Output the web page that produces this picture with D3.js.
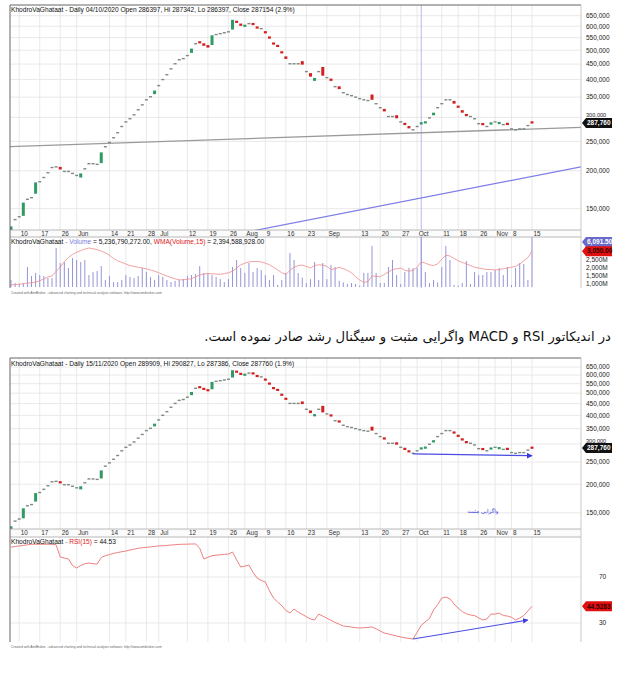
<!DOCTYPE html>
<html><head><meta charset="utf-8">
<script src="https://cdn.jsdelivr.net/npm/d3@7/dist/d3.min.js"></script>
<style>body{margin:0;background:#fff;}svg{display:block;position:absolute;left:0;top:0}</style>
</head><body>
<script>
// ---------------- DATA ----------------
const startDate = "2020-05-06", endDate = "2020-11-15";
// market holidays (Sat-Wed) in the period
const holidays = ["2020-05-24","2020-05-25","2020-06-03","2020-06-16","2020-08-08","2020-08-29","2020-08-30","2020-10-17","2020-10-25","2020-11-03"];
const tickDates = ["2020-05-10","2020-05-17","2020-05-26","2020-06-01","2020-06-14","2020-06-21","2020-06-28","2020-07-01","2020-07-12","2020-07-19","2020-07-26","2020-08-01","2020-08-09","2020-08-16","2020-08-23","2020-09-01","2020-09-13","2020-09-20","2020-09-27","2020-10-03","2020-10-11","2020-10-18","2020-10-26","2020-11-01","2020-11-08","2020-11-15"];
const tickLabels = ["10","17","26","Jun","14","21","28","Jul","12","19","26","Aug","9","16","23","Sep","13","20","27","Oct","11","18","26","Nov","8","15"];
const priceTicks = [150,200,250,300,350,400,450,500,550,600,650]; // thousands
const volTicks = [1000,1500,2000,2500]; // millions
const rsiTicks = [30,70];

// prices in thousands
const close = [131,138,141,157,161,163,183,184,190,197,205,206,202,199,199,196,193,196,203,211,211,210,230,240,248,257,267,280,290,297,306,318,330,343,351,368,382,400,415,434,451,465,469,480,506,525,527,517,510,560,563,567,571,575,630,616,602,606,612,606,590,589,568,546,522,513,488,468,451,451,451,448,425,409,405,425,412,406,396,379,372,362,357,354,350,346,343,341,343,333,323,314,302,302,298,290,283,276,273,280,287.154,290,299,311,323,333,343,343,333,323,311,303,302,297,286,283,280,289,290,289,284,283,275,273,275,275,282,287.76];
const open  = [127,138,141,142,161,163,168,184,190,197,205,206,206,199,199,196,193,190,203,211,211,210,212,240,248,257,267,280,290,297,306,318,330,343,351,358,382,400,415,434,451,465,469,480,490,525,535,527,520,520,563,567,571,575,585,625,612,598,612,614,598,589,578,555,530,520,496,477,451,451,451,460,425,420,396,425,440,406,403,379,380,362,357,354,350,346,343,341,357,333,323,320,302,302,305,290,288,281,273,280,286.397,288,299,305,323,333,343,343,340,328,317,308,302,297,286,287,280,284,290,286,284,288,275,273,275,275,282,289.909];
// volume in millions
const volume = [1250,1060,1000,1060,2060,1500,1690,1560,1500,1370,1370,3250,2310,2370,2000,2620,2500,2370,2500,1560,1750,1810,2120,1250,1500,1120,1120,1250,1560,1440,1370,1500,2000,1750,1440,1250,1560,1440,1250,1120,1190,1250,1310,1500,1560,1620,2120,1690,1690,1560,1440,1310,1120,1310,2060,2500,2000,1690,2310,1750,2000,1870,1560,1250,1560,940,1250,1690,2940,2500,1690,1400,1060,1300,2370,1250,2310,1300,2190,2060,1200,1100,1000,1060,1000,900,1690,1690,3370,1690,1060,1060,2060,2500,1560,1000,1750,2000,2000,2000,5237,1750,1060,1250,1100,2060,3370,2500,940,900,1060,2440,1000,1750,1560,1560,1750,1750,1870,2000,1560,2060,940,2000,2310,2250,1250,6091];
const wmaVolume = [940,960,990,1020,1060,1070,1120,1200,1320,1440,1500,1800,2050,2400,2650,2850,2980,3080,3180,3250,3200,3150,3050,2950,2800,2600,2450,2350,2250,2150,2100,2050,2000,1950,1880,1800,1700,1600,1500,1400,1320,1260,1260,1300,1330,1450,1560,1620,1650,1640,1620,1600,1650,1700,1800,2000,2200,2300,2380,2400,2400,2380,2300,2200,2050,1880,1700,1600,1850,2050,2150,2180,2100,2000,2150,2200,2180,2100,1900,1950,2050,1950,1850,1700,1450,1250,1100,1150,1500,1480,1450,1600,1750,1900,1950,2000,1850,1800,1850,2050,2395,2300,2200,2150,2250,2550,2800,2750,2600,2450,2350,2250,2150,2050,2000,1950,1900,1900,1880,1900,1950,2000,2050,2100,2250,2450,2650,3050];
const rsi = [96,96.5,97,97.5,98,98.5,98.5,98.5,98.5,98.5,98.5,98,87.4,86.5,85.7,80,77.8,80,81.5,82.2,81.5,81.3,87,88.5,89.5,90.5,91.3,92,92.6,93.5,94.2,95,95.4,95.8,96.2,96.6,97,97.2,97.5,97.8,98.1,98.4,98.5,98.6,98.7,98.8,95,85.7,87.2,88.5,89,89.3,89.7,90,91.7,85,78.7,79.5,80.4,74,69.1,67,65.7,58,51.7,48.3,45,41,38.7,42.2,39.5,37.5,35.5,33.5,32.6,37.8,36,34.2,32.3,30.5,29,27.4,27,26.5,26,25.7,25.9,26.2,26.6,25,23,21.3,20.5,19.6,18.7,17.9,17.2,16.6,16.1,22,28,31,34,41.3,46,51.7,52.6,51,46.5,43,40,38,37,36.5,34.5,32.6,33.5,37.8,37.8,38.7,36.5,36.1,35,32.6,34.3,36.5,40.5,44.53];

// trend lines (date, value)
const trendGrey = [["2020-05-06",240.2],["2020-11-15",274.7]];
const trendBlueTop = [["2020-08-04",127.5],["2020-11-15",191.6]];
const arrowPrice = [["2020-09-30",271.4],["2020-11-15",266.5]];
const arrowRsi = [["2020-09-30",16.1],["2020-11-14",32.6]];
const cursorDate = "2020-10-04";

const titleTop = "KhodroVaGhataat - Daily 04/10/2020 Open 286397, Hi 287342, Lo 286397, Close 287154 (2.9%)";
const titleBottom = "KhodroVaGhataat - Daily 15/11/2020 Open 289909, Hi 290827, Lo 287386, Close 287760 (1.9%)";
const footer = "Created with AmiBroker - advanced charting and technical analysis software. http://www.amibroker.com";
const persianText = "در اندیکاتور RSI و MACD واگرایی مثبت و سیگنال رشد صادر نموده است.";
const persianLabel = "واگرایی مثبت";

// ---------------- BUILD ----------------
const W = 627, H = 673;
const DAY = 86400000;
const pd = s => { const [y,m,d] = s.split("-").map(Number); return Date.UTC(y, m-1, d); };
const fd = t => new Date(t).toISOString().slice(0,10);
const dates = [];
for (let t = pd(startDate); t <= pd(endDate); t += DAY) {
  const wd = new Date(t).getUTCDay(), s = fd(t);
  if (wd !== 4 && wd !== 5 && !holidays.includes(s)) dates.push(s);
}
const bars = dates.map((d,i) => ({d, o:open[i], c:close[i], v:volume[i], w:wmaVolume[i], r:rsi[i]}));

const x = d3.scalePoint().domain(dates).range([11, 532]);
const L = 10, R = 581;
const FONT = "'Liberation Sans', Arial, sans-serif";
const svg = d3.select("body").append("svg").attr("width", W).attr("height", H)
  .style("font-family", FONT);
const defs = svg.append("defs");
defs.append("marker").attr("id","arrow").attr("viewBox","0 0 10 10").attr("refX",9).attr("refY",5)
  .attr("markerWidth",5).attr("markerHeight",5).attr("orient","auto")
  .append("path").attr("d","M0,0L10,5L0,10z").attr("fill","#3b3be0");

const fmtK = v => d3.format(",")(v*1000);
const GRID = "#e3e3e3";

function leftBox(g, yv, txt, bg, fg) {
  g.append("path").attr("d", `M${R+1},${yv}L${R+5},${yv-5}L612,${yv-5}L612,${yv+5}L${R+5},${yv+5}Z`).attr("fill", bg);
  g.append("text").attr("x", 587).attr("y", yv+2.3).attr("font-size", 6.5).attr("font-weight","bold").attr("fill", fg).text(txt);
}

function pricePane(g, top, bottom, id, hideTick) {
  const y = d3.scaleLog().domain([127.5, 705]).range([bottom, top]);
  const cp = defs.append("clipPath").attr("id", "clip"+id);
  cp.append("rect").attr("x", L).attr("y", top).attr("width", R-L).attr("height", bottom-top);
  g.append("g").selectAll("line").data(priceTicks).join("line")
    .attr("x1", L).attr("x2", R).attr("y1", d=>y(d)).attr("y2", d=>y(d))
    .attr("stroke",GRID).attr("stroke-width",0.8);
  // the 300,000 label sits partly under the last-price box, so draw it clipped above the box
  g.append("g").selectAll("text").data(priceTicks).join("text")
    .attr("x", 586).attr("y", d=>y(d)+2.3).attr("font-size", 6.5).attr("fill","#222")
    .attr("font-size", d => d===hideTick ? 5.6 : 6.5)
    .attr("dy", d => d===hideTick ? -3.2 : 0)
    .text(fmtK);
  return {y, clip: "url(#clip"+id+")"};
}

function vGrid(g, top, bottom) {
  g.append("g").selectAll("line").data(tickDates).join("line")
    .attr("x1", d=>x(d)).attr("x2", d=>x(d)).attr("y1", top).attr("y2", bottom)
    .attr("stroke",GRID).attr("stroke-width",0.8);
}

function candles(g, y, clip) {
  const cg = g.append("g").attr("clip-path", clip);
  cg.selectAll("rect").data(bars).join("rect")
    .attr("x", d=>x(d.d)-1.5).attr("width", 3)
    .attr("y", d=>{ if (d.o===d.c) return y(d.c)-0.7; const a=y(d.o), b=y(d.c); const h=Math.max(2.2,Math.abs(a-b)); return (a+b)/2-h/2; })
    .attr("height", d=> d.o===d.c ? 1.4 : Math.max(2.2, Math.abs(y(d.o)-y(d.c))))
    .attr("fill", d=> d.o===d.c ? "#7f8a84" : (d.c>d.o ? "#2f9a63" : "#d31f1f"));
}

function trend(g, y, pts, clip, color, width, extend, marker) {
  const x1 = x(pts[0][0]), y1 = y(pts[0][1]), x2 = x(pts[1][0]), y2 = y(pts[1][1]);
  const s = (y2-y1)/(x2-x1);
  let xa = x1, xb = x2;
  if (extend) { xa = L; xb = R; }
  const ln = g.append("line").attr("clip-path", clip)
    .attr("x1", xa).attr("y1", y1 + s*(xa-x1)).attr("x2", xb).attr("y2", y1 + s*(xb-x1))
    .attr("stroke", color).attr("stroke-width", width);
  if (marker) ln.attr("marker-end", "url(#arrow)");
}

function dateBand(g, top, bottom) {
  g.append("rect").attr("x",L).attr("y",top).attr("width",R-L).attr("height",bottom-top).attr("fill","#fbfbfb");
  g.append("line").attr("x1",L).attr("x2",R).attr("y1",top).attr("y2",top).attr("stroke","#a8a8a8").attr("stroke-width",0.8);
  g.append("line").attr("x1",L).attr("x2",R).attr("y1",bottom).attr("y2",bottom).attr("stroke","#a8a8a8").attr("stroke-width",0.8);
  g.append("g").selectAll("text").data(tickDates).join("text")
    .attr("x", d=>x(d)+1.5).attr("y", (top+bottom)/2+2.3).attr("font-size",6.4).attr("fill","#333")
    .text((d,i)=>tickLabels[i]);
}

function frame(g, top, bottom) {
  g.append("line").attr("x1",L).attr("x2",R).attr("y1",top).attr("y2",top).attr("stroke","#666").attr("stroke-width",1);
  g.append("line").attr("x1",L).attr("x2",L).attr("y1",top).attr("y2",bottom).attr("stroke","#666").attr("stroke-width",1);
  g.append("line").attr("x1",R).attr("x2",R).attr("y1",top).attr("y2",bottom).attr("stroke","#bbb").attr("stroke-width",0.8);
}

function titleWithParts(g, xPos, yPos, parts) {
  const t = g.append("text").attr("x", xPos).attr("y", yPos).attr("font-size", 6.6);
  parts.forEach(([s,c]) => t.append("tspan").attr("fill", c).text(s));
}

// ===== TOP CHART =====
{
  const g = svg.append("g");
  const top = 5, pb = 230, bb = 237, lb = 288;
  vGrid(g, top, lb);
  const {y, clip} = pricePane(g, top, pb, "A", 300);
  g.append("line").attr("x1", x(cursorDate)).attr("x2", x(cursorDate)).attr("y1", top).attr("y2", lb)
    .attr("stroke","#b9b9ec").attr("stroke-width",1);
  trend(g, y, trendGrey, clip, "#9a9a9a", 1.3, true, false);
  trend(g, y, trendBlueTop, clip, "#7d7de6", 1.2, true, false);
  candles(g, y, clip);
  dateBand(g, pb, bb);
  const yv = d3.scaleLinear().domain([812, 3937]).range([lb-1, bb]).clamp(true);
  g.append("g").selectAll("line").data(bars).join("line")
    .attr("x1", d=>x(d.d)).attr("x2", d=>x(d.d)).attr("y1", lb-1).attr("y2", d=>yv(d.v))
    .attr("stroke","#9595d8").attr("stroke-width",1);
  g.append("path").datum(bars).attr("fill","none").attr("stroke","#f08a8a").attr("stroke-width",0.8)
    .attr("d", d3.line().x(d=>x(d.d)).y(d=>yv(d.w)));
  g.append("g").selectAll("text").data(volTicks).join("text")
    .attr("x", 586).attr("y", d=>yv(d)+2.3).attr("font-size",6.5).attr("fill","#222")
    .text(d=>d3.format(",")(d)+"M");
  frame(g, top, lb);
  leftBox(g, y(close[close.length-1]), d3.format(",")(Math.round(close[close.length-1]*1000)), "#111", "#fff");
  leftBox(g, yv(volume[volume.length-1])+5, d3.format(",.2f")(volume[volume.length-1]+0.5), "#6a6ac8", "#fff");
  leftBox(g, yv(wmaVolume[wmaVolume.length-1]), d3.format(",.2f")(wmaVolume[wmaVolume.length-1]), "#e01010", "#300");
  titleWithParts(g, 11, 11.5, [[titleTop, "#111"]]);
  titleWithParts(g, 11, 243.5, [["KhodroVaGhataat", "#111"], [" - ", "#777"], ["Volume", "#7b7be0"],
    [" = 5,236,790,272.00, ", "#111"], ["WMA(Volume,15)", "#e02020"], [" = 2,394,588,928.00", "#111"]]);
  g.append("text").attr("x", 11).attr("y", 293.5).attr("font-size", 3.3).attr("fill","#666").text(footer);
}

// ===== BOTTOM CHART =====
{
  const g = svg.append("g");
  const top = 358, pb = 529, bb = 537, lb = 642;
  vGrid(g, top, lb);
  const {y, clip} = pricePane(g, top+1, pb, "B", 300);
  candles(g, y, clip);
  trend(g, y, arrowPrice, clip, "#4b4be6", 1.2, false, true);
  g.append("text").attr("x", 483).attr("y", 513).attr("font-size", 5.5).attr("fill","#3434d8")
    .attr("text-anchor","middle").style("font-family","'DejaVu Sans', sans-serif").text(persianLabel);
  dateBand(g, pb, bb);
  const yr = d3.scaleLinear().domain([13.5, 104.8]).range([lb, bb]);
  g.append("g").selectAll("line").data(rsiTicks).join("line")
    .attr("x1", L).attr("x2", R).attr("y1", d=>yr(d)).attr("y2", d=>yr(d))
    .attr("stroke",GRID).attr("stroke-width",0.8);
  g.append("g").selectAll("text").data(rsiTicks).join("text")
    .attr("x", 599).attr("y", d=>yr(d)+2.3).attr("font-size",6.5).attr("fill","#222").text(d=>d);
  g.append("path").datum(bars).attr("fill","none").attr("stroke","#ee7f7f").attr("stroke-width",1)
    .attr("d", d3.line().x(d=>x(d.d)).y(d=>yr(d.r)));
  trend(g, yr, arrowRsi, null, "#4b4be6", 1.1, false, true);
  frame(g, top, lb);
  leftBox(g, y(close[close.length-1]), d3.format(",")(Math.round(close[close.length-1]*1000)), "#111", "#fff");
  leftBox(g, yr(rsi[rsi.length-1]), "44.5283", "#e01010", "#300");
  titleWithParts(g, 11, 365.5, [[titleBottom, "#111"]]);
  titleWithParts(g, 11, 543.5, [["KhodroVaGhataat", "#111"], [" - ", "#777"], ["RSI(15)", "#e02020"], [" = 44.53", "#111"]]);
  g.append("text").attr("x", 11).attr("y", 648).attr("font-size", 3.3).attr("fill","#666").text(footer);
}

// Persian caption
d3.select("body").append("div")
  .attr("dir","rtl")
  .style("position","absolute").style("right","16px").style("top","329px")
  .style("font-family","'DejaVu Sans', sans-serif").style("font-size","13.2px").style("color","#111")
  .style("white-space","nowrap")
  .text(persianText);
</script>
</body></html>
